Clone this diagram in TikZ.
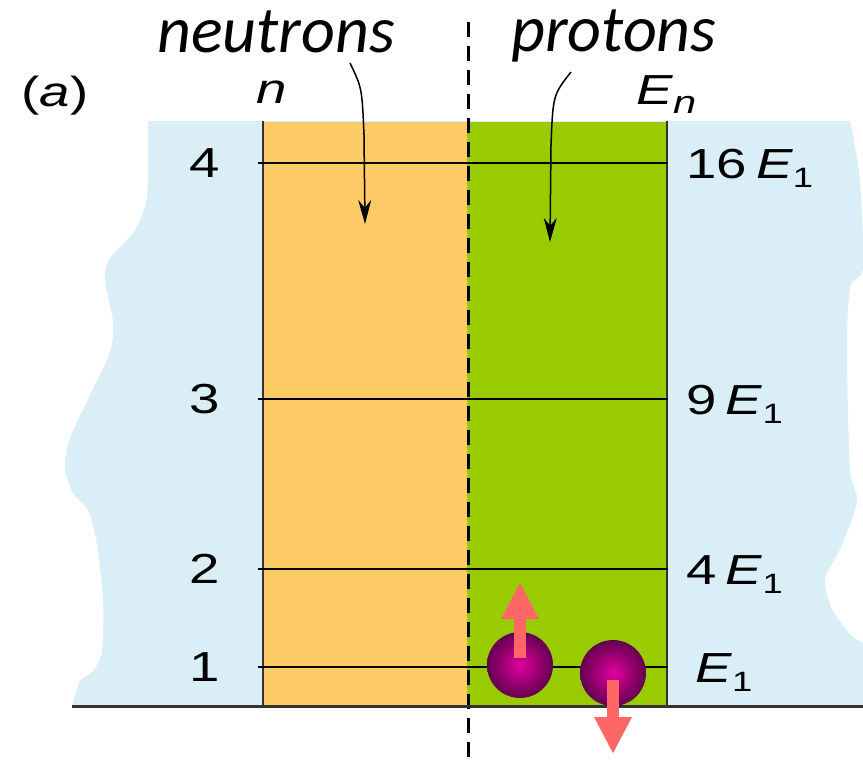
\documentclass[tikz,border=0pt]{standalone}
\usepackage{fontspec}
\setmainfont{Liberation Sans}
\newfontfamily\calfont{Carlito}
\usetikzlibrary{arrows.meta}
\definecolor{skyblue}{RGB}{218,238,248}
\definecolor{wellorange}{RGB}{254,203,102}
\definecolor{wellgreen}{RGB}{153,204,0}
\definecolor{ballin}{RGB}{226,0,160}
\definecolor{ballout}{RGB}{100,0,78}
\definecolor{spinpink}{RGB}{255,102,102}
\newcommand{\widetxt}[1]{\scalebox{1.3}[1]{#1}}
\newcommand{\Esub}[1]{\textit{E}\raisebox{-9pt}{\fontsize{28}{32}\selectfont #1}}
\begin{document}
\begin{tikzpicture}[x=1pt,y=-1pt,
  lbl/.style={font=\fontsize{42}{50}\selectfont, inner sep=0pt},
  title/.style={font=\calfont\itshape\fontsize{66}{76}\selectfont, inner sep=0pt, anchor=base},
  level/.style={line width=1.5pt},
  edge/.style={line width=2pt, black!80},
  pointer/.style={line width=1.5pt, -{Stealth[width=13pt,length=24pt]}},
  proton/.style={circle, minimum size=66pt, inner sep=0pt, inner color=ballin, outer color=ballout},
  spin/.style={color=spinpink, line width=12pt, -{Triangle[width=35pt,length=37pt]}}]
\useasboundingbox (0,0) rectangle (863,766);
% background of the nucleus
\fill[skyblue] plot[smooth] coordinates {(72,706) (80,681) (93,671) (102,651) (103,600) (97,545) (88,510) (73,493) (65,468) (70,438) (90,395) (110,352) (113,322) (105,280) (110,258) (133,233) (145,207) (148,181) (148,121)}
  -- plot[smooth] coordinates {(850,121) (855,147) (860,181) (863,267) (850,288) (847,352) (850,468) (857,502) (840,549) (825,579) (832,609) (850,634) (863,643)}
  -- (863,706) -- cycle;
\fill[wellorange] (263,122) rectangle (467,706);
\fill[wellgreen] (467,122) rectangle (667,706);
\draw[edge] (263,121) -- (263,706);
\draw[edge] (667,121) -- (667,706);
% energy levels
\foreach \y/\n/\e in {163/4/16, 399/3/9, 569/2/4, 667/1/{}} {
  \draw[level] (258,\y) -- (668,\y);
  \node[lbl] (n\n) at (205,\y) {\widetxt{\n}};
  \node[lbl, anchor=base west] (e\n) at (686,\y+15) {\widetxt{\e\,\Esub{1}}};
}
\draw[line width=3pt, dash pattern=on 15pt off 9pt] (468,22) -- (468,766);
\draw[line width=3pt, black!80] (72,706) -- (863,706);
% headings
\node[lbl, anchor=base] (part) at (55,106) {\widetxt{(\textit{a})}};
\node[lbl, anchor=base] (ncol) at (272,103) {\widetxt{\textit{n}}};
\node[lbl, anchor=base west] (ecol) at (636,104) {\widetxt{\textit{E}\raisebox{-9pt}{\fontsize{32}{36}\selectfont\textit{n}}}};
\node[title] (neutrons) at (276,52) {neutrons};
\node[title] (protons) at (614,51) {protons};
\coordinate (nstart) at (350,63);
\coordinate (ntip) at (365,224);
\coordinate (pstart) at (571,72);
\coordinate (ptip) at (550,242);
\draw[pointer] (nstart) .. controls (362,88) .. (364,135) -- (ntip);
\draw[pointer] (pstart) .. controls (553,95) .. (551,145) -- (ptip);
% two protons in the lowest level
\node[proton] (p1) at (520,665) {};
\node[proton] (p2) at (613,673) {};
\coordinate (up) at (520,582);
\coordinate (down) at (613,754);
\draw[spin] ([yshift=7pt]p1.center) -- (up);
\draw[spin] ([yshift=-7pt]p2.center) -- (down);
\end{tikzpicture}
\end{document}
